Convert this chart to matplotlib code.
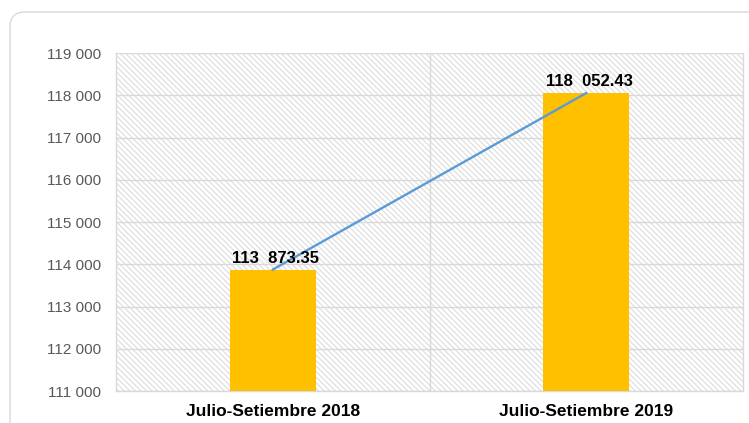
import matplotlib.pyplot as plt
from matplotlib.patches import FancyBboxPatch, Rectangle
from matplotlib.ticker import FuncFormatter

plt.rcParams['font.family'] = ['Liberation Sans', 'DejaVu Sans']
plt.rcParams['hatch.color'] = '#DCDCDC'
plt.rcParams['hatch.linewidth'] = 0.8

categorias = ['Julio-Setiembre 2018', 'Julio-Setiembre 2019']
valores = [113873.35, 118052.43]
etiquetas = ['113  873.35', '118  052.43']

fig = plt.figure(figsize=(7.49, 4.23), dpi=100)

# marco redondeado exterior (en pulgadas)
marco = FancyBboxPatch((0.10, -0.5), 8.0, 4.11 + 0.5,
                       boxstyle='round,pad=0,rounding_size=0.15',
                       transform=fig.dpi_scale_trans, facecolor='white',
                       edgecolor='#D9D9D9', linewidth=1.0, zorder=-10)
fig.patches.append(marco)

ax = fig.add_axes([116 / 749, 32 / 423, 627 / 749, 338 / 423])
ax.set_facecolor('none')

# fondo rayado
ax.add_patch(Rectangle((0, 0), 1, 1, transform=ax.transAxes, facecolor='white',
                       edgecolor='#DCDCDC', linewidth=0, hatch='\\' * 6, zorder=0))

x = list(range(len(categorias)))
ax.bar(x, [v - 111000 for v in valores], bottom=111000, width=0.275,
       color='#FFC000', zorder=3)
ax.plot(x, valores, color='#5B9BD5', linewidth=1.7, zorder=4)

for xi, v, t in zip(x, valores, etiquetas):
    ax.text(xi + 0.01, v + 90, t, ha='center', va='bottom', fontsize=12,
            fontweight='bold', color='black', zorder=5)

ax.set_xlim(-0.5, 1.5)
ax.set_ylim(111000, 119000)
ax.set_yticks(range(111000, 119001, 1000))
ax.yaxis.set_major_formatter(FuncFormatter(lambda v, p: f'{int(v):,}'.replace(',', ' ')))
ax.set_xticks(x)
ax.set_xticklabels(categorias, fontweight='bold', fontsize=12.5, color='black')
ax.tick_params(axis='y', labelsize=11, labelcolor='#595959', length=0, pad=11)
ax.tick_params(axis='x', length=0, pad=9)

ax.grid(axis='y', color='#D9D9D9', linewidth=1, zorder=1)
ax.axvline(0.5, color='#D9D9D9', linewidth=1, zorder=1)
for s in ax.spines.values():
    s.set_color('#D9D9D9')
    s.set_linewidth(1)
ax.spines['top'].set_visible(False)

fig.savefig('out.png', dpi=100)
